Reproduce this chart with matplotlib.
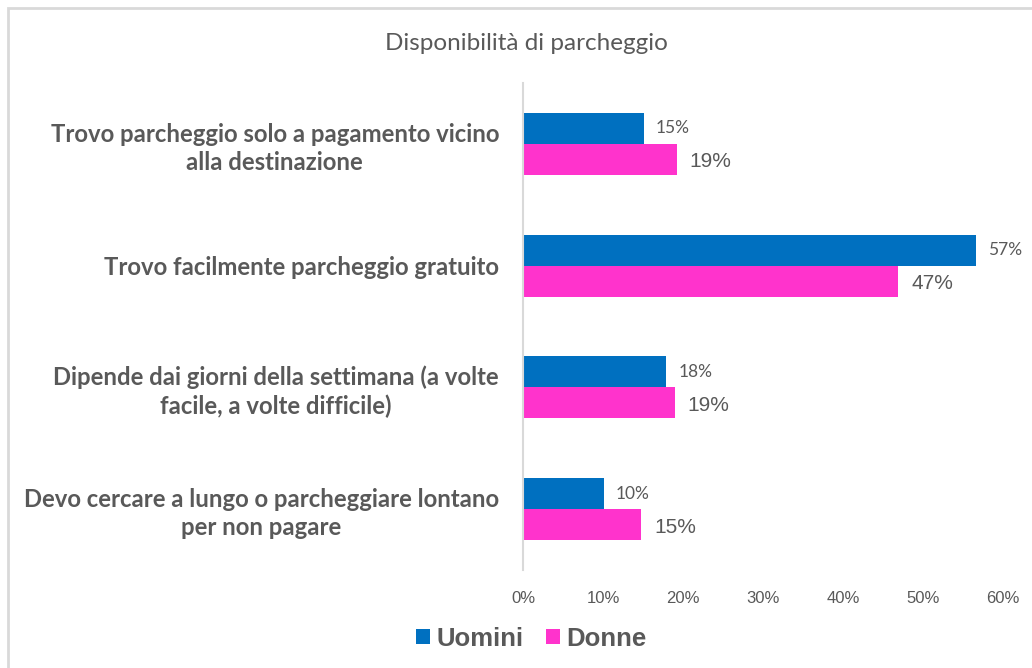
import numpy as np
import matplotlib
matplotlib.use("Agg")
import matplotlib.pyplot as plt
from matplotlib.patches import Rectangle

# Dati
categorie = [
    "Trovo parcheggio solo a pagamento vicino\nalla destinazione",
    "Trovo facilmente parcheggio gratuito",
    "Dipende dai giorni della settimana (a volte\nfacile, a volte difficile)",
    "Devo cercare a lungo o parcheggiare lontano\nper non pagare",
]
uomini = [15.1, 56.6, 17.9, 10.1]
donne = [19.2, 46.9, 19.0, 14.8]
serie = ["Uomini", "Donne"]
colori = ["#0070C0", "#FF33CC"]
xticks = [0, 10, 20, 30, 40, 50, 60]

grigio = "#595959"

fig = plt.figure(figsize=(10.32, 6.68), dpi=100)
ax = fig.add_axes([0.5068, 0.1467, 0.4651, 0.729])

y = np.arange(len(categorie))
h = 0.255
b1 = ax.barh(y - h / 2, uomini, height=h, color=colori[0], label=serie[0])
b2 = ax.barh(y + h / 2, donne, height=h, color=colori[1], label=serie[1])

# Etichette dei valori
for rect, v in zip(b1, uomini):
    ax.text(rect.get_width() + 1.5, rect.get_y() + rect.get_height() / 2, f"{v:.0f}%",
            va="center", ha="left", fontsize=12.5, color=grigio, family="Lato")
for rect, v in zip(b2, donne):
    ax.text(rect.get_width() + 1.6, rect.get_y() + rect.get_height() / 2 + 0.02, f"{v:.0f}%",
            va="center", ha="left", fontsize=15, color=grigio, family="Liberation Sans")

ax.set_xlim(0, 60)
ax.set_ylim(3.5, -0.5)
ax.set_xticks(xticks)
ax.set_xticklabels([f"{t}%" for t in xticks], family="Liberation Sans", fontsize=12, color=grigio)
ax.set_yticks(y)
ax.set_yticklabels(categorie, family="Lato", fontweight="bold", fontsize=17.2, color=grigio,
                   ha="center", multialignment="center", linespacing=1.25)
ax.tick_params(axis="y", length=0, pad=0)
ax.tick_params(axis="x", length=0, pad=15)

# Etichette allineate a destra, centrate tra loro
for lab in ax.get_yticklabels():
    lab.set_horizontalalignment("right")
    lab.set_x(-0.05)

for s in ["top", "right", "bottom"]:
    ax.spines[s].set_visible(False)
ax.spines["left"].set_color("#D9D9D9")
ax.spines["left"].set_linewidth(1.5)

fig.text(0.51, 0.935, "Disponibilità di parcheggio", ha="center", va="center",
         fontsize=17.5, color=grigio, family="Lato")

leg = fig.legend(handles=[b1, b2], loc="center", bbox_to_anchor=(0.515, 0.044), ncol=2,
                 frameon=False, handlelength=0.55, handleheight=0.55, handletextpad=0.25,
                 columnspacing=0.85, prop={"family": "Liberation Sans", "weight": "bold", "size": 18.5})
for t in leg.get_texts():
    t.set_color(grigio)

# Bordo del grafico
fig.patches.append(Rectangle((8 / 1032, -0.05), 1.2, 0.05 + 1 - 8 / 668, transform=fig.transFigure,
                             fill=False, edgecolor="#D9D9D9", linewidth=2))

fig.savefig("out.png", dpi=100, facecolor="white")
